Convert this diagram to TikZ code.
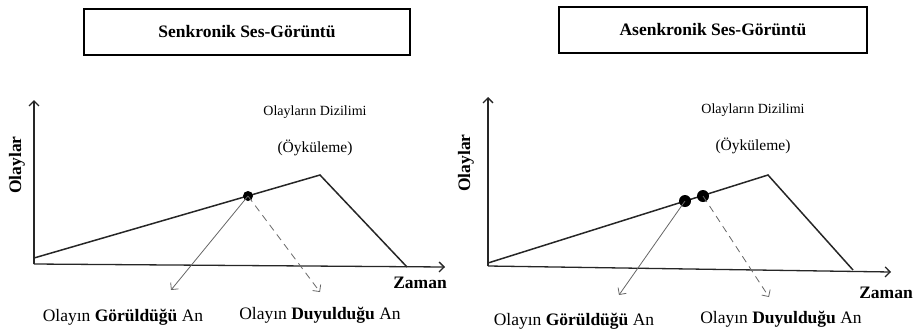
\documentclass[tikz,border=0pt]{standalone}
\usepackage{fontspec}
\setmainfont{Liberation Serif}
\usetikzlibrary{arrows.meta, positioning}
\tikzset{
  titlebox/.style={draw, line width=1.5pt, minimum height=46pt, inner sep=0pt, font=\fontsize{17.5}{20}\selectfont\bfseries},
  axisline/.style={-{Straight Barb[length=5pt, width=10pt]}, line width=1.3pt, black!85},
  storyline/.style={line width=1.5pt, black!85},
  eventdot/.style={circle, fill=black, inner sep=0pt, minimum size=10pt},
  seenline/.style={-{Straight Barb[length=5pt, width=10pt]}, line width=0.8pt, black!60},
  heardline/.style={seenline, dash pattern=on 7pt off 5pt},
  axislabel/.style={font=\fontsize{17.5}{20}\selectfont\bfseries, inner sep=1pt},
  notelabel/.style={font=\fontsize{14}{17}\selectfont, inner sep=1pt},
  momentlabel/.style={font=\fontsize{17.5}{20}\selectfont, inner sep=1pt}
}

\begin{document}
\begin{tikzpicture}[x=1pt, y=-1pt]
  \useasboundingbox (0,0) rectangle (916,333);

  % Left panel: sound and image arrive together.
  \node[titlebox, minimum width=326pt] at (247,32) (synctitle) {Senkronik Ses-Görüntü};
  \coordinate (so) at (34,264);
  \coordinate (sy) at (34,100);
  \coordinate (sx) at (445,267);
  \coordinate (sstart) at (34,258);
  \coordinate (speak) at (320,175);
  \coordinate (send) at (407,267);
  \draw[axisline] (so) -- (sy);
  \draw[axisline] (so) -- (sx);
  \draw[storyline] (sstart) -- (speak) -- (send);
  \node[eventdot] at (248,196) (sdot) {};
  \coordinate (sseen) at (171,290);
  \coordinate (sheard) at (320,292);
  \draw[seenline] (sdot.center) -- (sseen);
  \draw[heardline] (sdot.center) -- (sheard);

  \node[axislabel, rotate=90] at (17,165) (sylab) {Olaylar};
  \node[axislabel] at (420,283) (sxlab) {Zaman};
  \node[notelabel] at (315,112) (sorder) {Olayların Dizilimi};
  \node[notelabel, font=\fontsize{15.5}{18}\selectfont] at (315,148) (sstory) {(Öyküleme)};
  \node[momentlabel] at (123,317) (sseenlab) {Olayın \textbf{Görüldüğü} An};
  \node[momentlabel] at (320,315) (sheardlab) {Olayın \textbf{Duyulduğu} An};

  % Right panel: sound lags behind the image.
  \node[titlebox, minimum width=308pt] at (713,30) (asynctitle) {Asenkronik Ses-Görüntü};
  \coordinate (ao) at (488,266);
  \coordinate (ay) at (488,97);
  \coordinate (ax) at (891,272);
  \coordinate (astart) at (488,263);
  \coordinate (apeak) at (768,175);
  \coordinate (aend) at (853,270);
  \draw[axisline] (ao) -- (ay);
  \draw[axisline] (ao) -- (ax);
  \draw[storyline] (astart) -- (apeak) -- (aend);
  \node[eventdot, minimum size=12pt] at (685,201) (adotseen) {};
  \node[eventdot, minimum size=12pt] at (703,196) (adotheard) {};
  \coordinate (aseen) at (619,295);
  \coordinate (aheard) at (769,297);
  \draw[seenline] (adotseen.center) -- (aseen);
  \draw[heardline] (adotheard.center) -- (aheard);

  \node[axislabel, rotate=90] at (466,163) (aylab) {Olaylar};
  \node[axislabel] at (886,293) (axlab) {Zaman};
  \node[notelabel] at (753,110) (aorder) {Olayların Dizilimi};
  \node[notelabel, font=\fontsize{15.5}{18}\selectfont] at (753,146) (astory) {(Öyküleme)};
  \node[momentlabel] at (574,321) (aseenlab) {Olayın \textbf{Görüldüğü} An};
  \node[momentlabel] at (781,319) (aheardlab) {Olayın \textbf{Duyulduğu} An};
\end{tikzpicture}
\end{document}
